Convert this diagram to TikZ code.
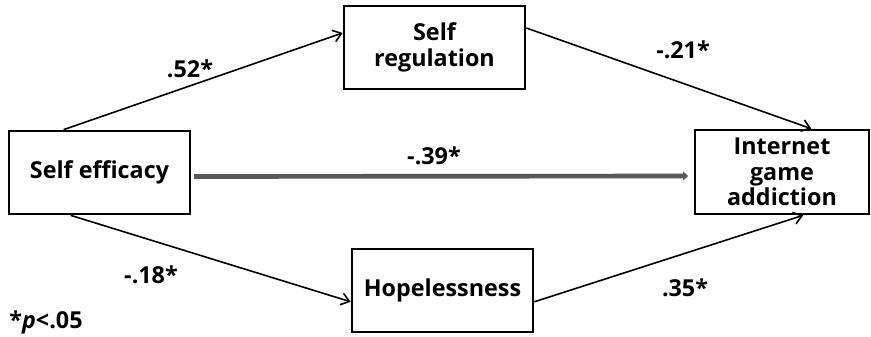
\documentclass[tikz,border=0pt]{standalone}
\usepackage{fontspec}
\setmainfont{Open Sans}
\usetikzlibrary{positioning,arrows.meta,calc}

\tikzset{
	varbox/.style={draw,line width=2pt,minimum width=181*0.75pt,minimum height=83*0.75pt,align=center,inner sep=0pt,font=\fontsize{17.5}{19}\selectfont\bfseries},
	coef/.style={font=\fontsize{17.5}{19}\selectfont\bfseries,inner sep=0pt},
	path/.style={->,line width=1.2pt},
}

\begin{document}
\begin{tikzpicture}[x=0.75pt,y=-0.75pt,>={Straight Barb[length=6pt,width=9pt]}]

\useasboundingbox (0,0) rectangle (871,336);

\node [varbox] at (99.5,172.5) (eff) {Self efficacy};
\node [varbox] at (434.5,47.5) (reg) {Self\\regulation};
\node [varbox] at (442.5,290.5) (hope) {Hopelessness};
\node [varbox,minimum width=174*0.75pt,minimum height=84*0.75pt] at (782,172) (net) {Internet\\game\\addiction};

%%%%%%%%%%%%%%%%%%%%%%%%%%%%%%%%%%%%%%%%%%%%%%%%%%%%%%%%%%%%%%%%

\draw [path] (eff.130) to (reg.171);
\draw [path] (reg.12) to (net.56);
\draw [path] (eff.236) to (hope.187);
\draw [path] (hope.-7) to (net.-64);

\draw [-{Triangle[length=4pt,width=6.5pt]},line width=3.5pt,color=black!65,shorten <=2pt,shorten >=4pt] ([yshift=-3pt]eff.east) to ([yshift=-3pt]net.west);

%%%%%%%%%%%%%%%%%%%%%%%%%%%%%%%%%%%%%%%%%%%%%%%%%%%%%%%%%%%%%%%%

\node [coef] at (190,69) (c1) {.52*};
\node [coef] at (683,50) (c2) {-.21*};
\node [coef] at (434,156) (c3) {-.39*};
\node [coef] at (151,275) (c4) {-.18*};
\node [coef] at (685,288) (c5) {.35*};

\node [coef] at (46,322) (sig) {*\textit{p}<.05};

\end{tikzpicture}
\end{document}
